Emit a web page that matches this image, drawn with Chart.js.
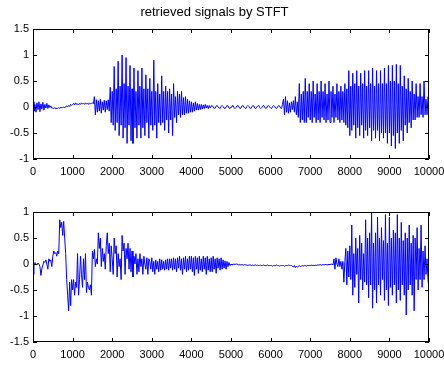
<!DOCTYPE html>
<html>
<head>
<meta charset="utf-8">
<script src="https://cdn.jsdelivr.net/npm/chart.js@4.4.1/dist/chart.umd.min.js"></script>
<style>
    html, body { margin: 0; padding: 0; background: #fff; }
    #wrap { position: relative; width: 444px; height: 365px; }
    .panel { position: absolute; left: 0; }
</style>
</head>
<body>
<div id="wrap">
    <canvas id="topPlot" class="panel" style="top:0" width="444" height="182"></canvas>
    <canvas id="bottomPlot" class="panel" style="top:182px" width="444" height="183"></canvas>
</div>
<script>
// one read-off value every 25 samples, 0..10000 (20 values per row = 500 samples)
const sampleStep = 25;

// upper panel: first retrieved signal
const signal1 = [
    0.1, -0.08, 0.05, -0.1, 0.08, -0.05, 0.1, -0.09, 0.06, -0.04, 0.09, -0.06, 0.05, -0.02, 0.07, -0.03, 0.04, -0.01, 0.02, -0.02,
    -0.02, -0.03, -0.01, -0.04, -0.02, -0.03, -0.01, -0.03, 0.0, -0.02, -0.01, 0.0, -0.02, 0.01, 0.02, 0.0, 0.03, 0.01, 0.05, 0.03,
    0.05, 0.07, 0.04, 0.08, 0.05, 0.06, 0.04, 0.07, 0.05, 0.08, 0.06, 0.07, 0.05, 0.08, 0.06, 0.07, 0.05, 0.08, 0.06, 0.07,
    0.08, 0.06, 0.2, -0.15, 0.14, -0.1, 0.12, -0.08, 0.15, -0.12, 0.1, -0.06, 0.13, -0.1, 0.12, -0.05, 0.14, -0.08, 0.38, -0.3,
    0.3, -0.35, 0.78, -0.45, 0.35, -0.3, 0.88, -0.55, 0.4, -0.35, 1.0, -0.6, 0.45, -0.4, 0.95, -0.7, 0.4, -0.35, 0.8, -0.65,
    0.35, -0.7, 0.75, -0.4, 0.3, -0.6, 0.7, -0.35, 0.4, -0.6, 0.75, -0.4, 0.35, -0.55, 0.62, -0.3, 0.35, -0.6, 0.55, -0.35,
    0.3, -0.45, 0.9, -0.35, 0.3, -0.6, 0.45, -0.3, 0.25, -0.35, 0.6, -0.3, 0.3, -0.45, 0.4, -0.25, 0.3, -0.5, 0.35, -0.25,
    0.25, -0.55, 0.45, -0.2, 0.2, -0.3, 0.3, -0.15, 0.25, -0.2, 0.3, -0.15, 0.18, -0.15, 0.2, -0.12, 0.15, -0.12, 0.12, -0.1,
    0.1, -0.1, 0.08, -0.08, 0.1, -0.06, 0.07, -0.06, 0.05, -0.05, 0.05, -0.04, 0.04, -0.03, 0.05, -0.02, 0.03, -0.03, 0.03, -0.02,
    0.02, 0.03, 0.0, -0.03, -0.02, 0.02, 0.03, 0.0, -0.02, -0.03, 0.01, 0.03, 0.01, -0.02, -0.03, 0.0, 0.03, 0.02, -0.02, -0.03,
    0.0, 0.02, 0.03, -0.01, -0.03, -0.01, 0.02, 0.03, 0.0, -0.03, -0.02, 0.02, 0.03, 0.0, -0.02, -0.03, 0.01, 0.03, 0.01, -0.02,
    -0.03, 0.0, 0.03, 0.02, -0.02, -0.03, 0.0, 0.02, 0.03, -0.01, -0.03, -0.01, 0.02, 0.03, 0.0, -0.03, -0.02, 0.02, 0.03, 0.0,
    -0.02, -0.03, 0.01, 0.03, 0.01, -0.02, -0.03, 0.0, 0.03, 0.02, -0.02, -0.03, 0.05, 0.15, -0.15, 0.2, -0.1, 0.12, -0.12, 0.08,
    -0.1, 0.1, -0.05, 0.12, -0.1, 0.2, -0.15, 0.1, -0.2, 0.45, -0.3, 0.25, -0.25, 0.3, -0.3, 0.55, -0.3, 0.3, -0.2, 0.45,
    -0.25, 0.3, -0.3, 0.5, -0.2, 0.25, -0.3, 0.45, -0.25, 0.3, -0.3, 0.5, -0.2, 0.3, -0.25, 0.45, -0.3, 0.25, -0.25, 0.5,
    -0.3, 0.3, -0.2, 0.4, -0.3, 0.25, -0.2, 0.45, -0.25, 0.3, -0.3, 0.4, -0.25, 0.3, -0.3, 0.45, -0.35, 0.35, -0.4, 0.7,
    -0.55, 0.4, -0.45, 0.65, -0.35, 0.45, -0.6, 0.7, -0.4, 0.4, -0.55, 0.65, -0.35, 0.45, -0.6, 0.7, -0.45, 0.4, -0.55, 0.7,
    -0.4, 0.45, -0.65, 0.75, -0.45, 0.4, -0.6, 0.7, -0.45, 0.45, -0.65, 0.7, -0.5, 0.45, -0.6, 0.75, -0.5, 0.45, -0.7, 0.8,
    -0.5, 0.5, -0.75, 0.8, -0.55, 0.5, -0.8, 0.82, -0.5, 0.45, -0.7, 0.8, -0.45, 0.4, -0.65, 0.6, -0.35, 0.35, -0.5, 0.55,
    -0.3, 0.3, -0.4, 0.5, -0.25, 0.25, -0.25, 0.45, -0.2, 0.2, -0.2, 0.45, -0.15, 0.2, -0.2, 0.5, -0.15, 0.15, -0.15, 0.2,
    0.1
];

// lower panel: second retrieved signal
const signal2 = [
    -0.2, 0.0, 0.03, 0.0, -0.02, 0.02, 0.0, -0.05, -0.22, -0.08, -0.02, 0.05, 0.03, 0.08, 0.0, -0.1, 0.1, 0.05, 0.08, -0.05,
    0.15, 0.25, 0.2, 0.22, 0.15, 0.25, 0.2, 0.85, 0.7, 0.8, 0.55, 0.82, 0.5, 0.2, -0.3, -0.6, -0.9, -0.35, -0.8, -0.3,
    -0.5, -0.3, -0.6, -0.35, -0.45, 0.2, -0.6, -0.3, 0.15, -0.2, -0.45, 0.1, -0.3, 0.2, -0.55, -0.35, -0.45, -0.5, -0.4, -0.6,
    0.25, 0.1, 0.28, -0.05, 0.1, 0.0, 0.6, 0.3, 0.5, -0.05, 0.3, 0.05, 0.2, -0.1, 0.35, 0.6, 0.2, 0.4, -0.15, 0.35,
    0.1, -0.2, 0.5, 0.2, 0.35, -0.25, 0.2, -0.05, 0.1, -0.3, 0.55, 0.25, 0.4, -0.2, 0.3, 0.1, 0.4, -0.1, 0.3, -0.15,
    0.25, -0.25, 0.15, 0.0, 0.2, -0.2, 0.1, -0.15, 0.2, -0.05, 0.1, -0.2, 0.15, 0.0, -0.1, 0.12, -0.2, 0.1, 0.05, -0.1,
    0.12, -0.15, 0.05, -0.2, 0.08, -0.1, 0.05, -0.15, 0.1, -0.12, 0.08, -0.1, 0.05, -0.12, 0.08, -0.1, 0.1, -0.12, 0.1, -0.08,
    0.1, -0.12, 0.12, -0.1, 0.1, -0.15, 0.12, -0.08, 0.15, -0.12, 0.1, -0.2, 0.12, -0.1, 0.15, -0.15, 0.1, -0.12, 0.15, -0.1,
    0.15, -0.15, 0.12, -0.22, 0.15, -0.1, 0.12, -0.18, 0.15, -0.12, 0.1, -0.15, 0.15, -0.1, 0.12, -0.2, 0.15, -0.12, 0.1, -0.15,
    0.12, -0.15, 0.15, -0.1, 0.1, -0.18, 0.12, -0.08, 0.1, -0.12, 0.12, -0.1, 0.08, -0.08, 0.06, -0.1, 0.05, -0.05, 0.03, -0.03,
    0.0, -0.02, -0.01, 0.0, -0.01, 0.0, 0.0, -0.01, -0.02, -0.01, -0.02, -0.01, -0.02, -0.02, -0.01, -0.02, -0.02, -0.03, -0.02, -0.02,
    -0.02, -0.03, -0.02, -0.03, -0.02, -0.02, -0.03, -0.02, -0.03, -0.03, -0.02, -0.03, -0.03, -0.02, -0.03, -0.03, -0.03, -0.02, -0.03, -0.03,
    -0.03, -0.03, -0.04, -0.03, -0.03, -0.03, -0.02, -0.03, -0.03, -0.04, -0.03, -0.03, -0.03, -0.03, -0.04, -0.03, -0.03, -0.03, -0.02, -0.03,
    -0.03, -0.03, -0.04, -0.06, -0.03, -0.07, -0.04, -0.06, -0.05, -0.03, -0.05, -0.04, -0.03, -0.04, -0.03, -0.03, -0.04, -0.03, -0.03, -0.03,
    -0.03, -0.02, -0.03, -0.02, -0.04, -0.02, -0.03, -0.02, -0.02, -0.02, -0.01, -0.02, -0.02, -0.01, -0.02, -0.01, -0.01, -0.02, -0.01, -0.01,
    -0.01, -0.01, 0.0, -0.02, 0.1, -0.1, 0.12, 0.0, -0.05, 0.1, -0.05, 0.05, -0.1, 0.05, -0.35, 0.05, 0.3, -0.4, 0.25, -0.25,
    0.35, -0.3, 0.75, -0.6, 0.2, -0.45, 0.5, -0.2, 0.3, -0.75, 0.55, -0.3, 0.4, -0.5, 0.2, -0.35, 0.85, -0.4, 0.5, -0.65,
    0.6, -0.4, 1.0, -0.85, 0.4, -0.5, 0.6, -0.75, 0.9, -0.4, 0.5, -0.6, 0.7, -0.3, 0.45, -0.7, 0.95, -0.5, 0.4, -0.8,
    0.9, -0.45, 0.5, -0.6, 0.65, -0.4, 0.6, -0.75, 0.95, -0.5, 0.5, -0.7, 0.8, -0.4, 0.45, -0.6, 0.6, -0.98, 0.5, -0.5,
    0.75, -0.4, 0.4, -0.6, 0.55, -0.9, 0.5, -0.3, 0.7, -0.5, 0.3, -0.3, 0.75, -0.45, 0.25, -0.3, 0.35, -0.2, 0.1, -0.3,
    -0.5
];

const xTicks = [0, 1000, 2000, 3000, 4000, 5000, 6000, 7000, 8000, 9000, 10000];
const yTicksTop = [-1, -0.5, 0, 0.5, 1, 1.5];
const yTicksBottom = [-1.5, -1, -0.5, 0, 0.5, 1];

const fontFamily = "'Liberation Sans', Arial, sans-serif";
const font = { family: fontFamily, size: 11, weight: 'normal' };
const titleFont = { family: fontFamily, size: 13, weight: 'normal' };

// MATLAB-like box with inward tick marks
const matlabAxes = {
    id: 'matlabAxes',
    afterDraw(chart) {
        const { ctx, chartArea: a, scales: { x, y } } = chart;
        ctx.save();
        ctx.strokeStyle = '#000';
        ctx.lineWidth = 1;
        ctx.strokeRect(a.left + 0.5, a.top + 0.5, a.right - a.left - 1, a.bottom - a.top - 1);
        ctx.beginPath();
        x.ticks.forEach(t => {
            const px = Math.round(x.getPixelForValue(t.value)) + 0.5;
            ctx.moveTo(px, a.top); ctx.lineTo(px, a.top + 4);
            ctx.moveTo(px, a.bottom); ctx.lineTo(px, a.bottom - 4);
        });
        y.ticks.forEach(t => {
            const py = Math.round(y.getPixelForValue(t.value)) + 0.5;
            ctx.moveTo(a.left, py); ctx.lineTo(a.left + 4, py);
            ctx.moveTo(a.right, py); ctx.lineTo(a.right - 4, py);
        });
        ctx.stroke();
        ctx.restore();
    }
};

function makePoints(values) {
    return values.map((v, i) => ({ x: i * sampleStep, y: v }));
}

function makeChart(id, values, yTicks, title, padTop) {
    new Chart(document.getElementById(id), {
        type: 'line',
        data: {
            datasets: [{
                data: makePoints(values),
                borderColor: '#0000ff',
                borderWidth: 1,
                pointRadius: 0,
                tension: 0
            }]
        },
        options: {
            responsive: false,
            animation: false,
            layout: { padding: { top: padTop, right: 15, left: 0, bottom: 0 } },
            plugins: {
                legend: { display: false },
                tooltip: { enabled: false },
                title: {
                    display: !!title,
                    text: title,
                    color: '#000',
                    font: titleFont,
                    padding: { top: 5, bottom: 8.4 }
                }
            },
            scales: {
                x: {
                    type: 'linear',
                    min: xTicks[0],
                    max: xTicks[xTicks.length - 1],
                    afterBuildTicks: s => { s.ticks = xTicks.map(v => ({ value: v })); },
                    afterFit: s => { s.height = 23; s.paddingLeft = 0; s.paddingRight = 0; },
                    grid: { display: false, drawTicks: false },
                    border: { display: false },
                    ticks: {
                        color: '#000', font: font, padding: 6, maxRotation: 0,
                        autoSkip: false, callback: v => String(v)
                    }
                },
                y: {
                    min: yTicks[0],
                    max: yTicks[yTicks.length - 1],
                    afterBuildTicks: s => { s.ticks = yTicks.map(v => ({ value: v })); },
                    afterFit: s => { s.width = 33; s.paddingTop = 0; s.paddingBottom = 0; },
                    grid: { display: false, drawTicks: false },
                    border: { display: false },
                    ticks: {
                        color: '#000', font: font, padding: 4,
                        autoSkip: false, callback: v => String(v)
                    }
                }
            }
        },
        plugins: [matlabAxes]
    });
}

makeChart('topPlot', signal1, yTicksTop, 'retrieved signals by STFT', 0);
makeChart('bottomPlot', signal2, yTicksBottom, '', 30);
</script>
</body>
</html>
